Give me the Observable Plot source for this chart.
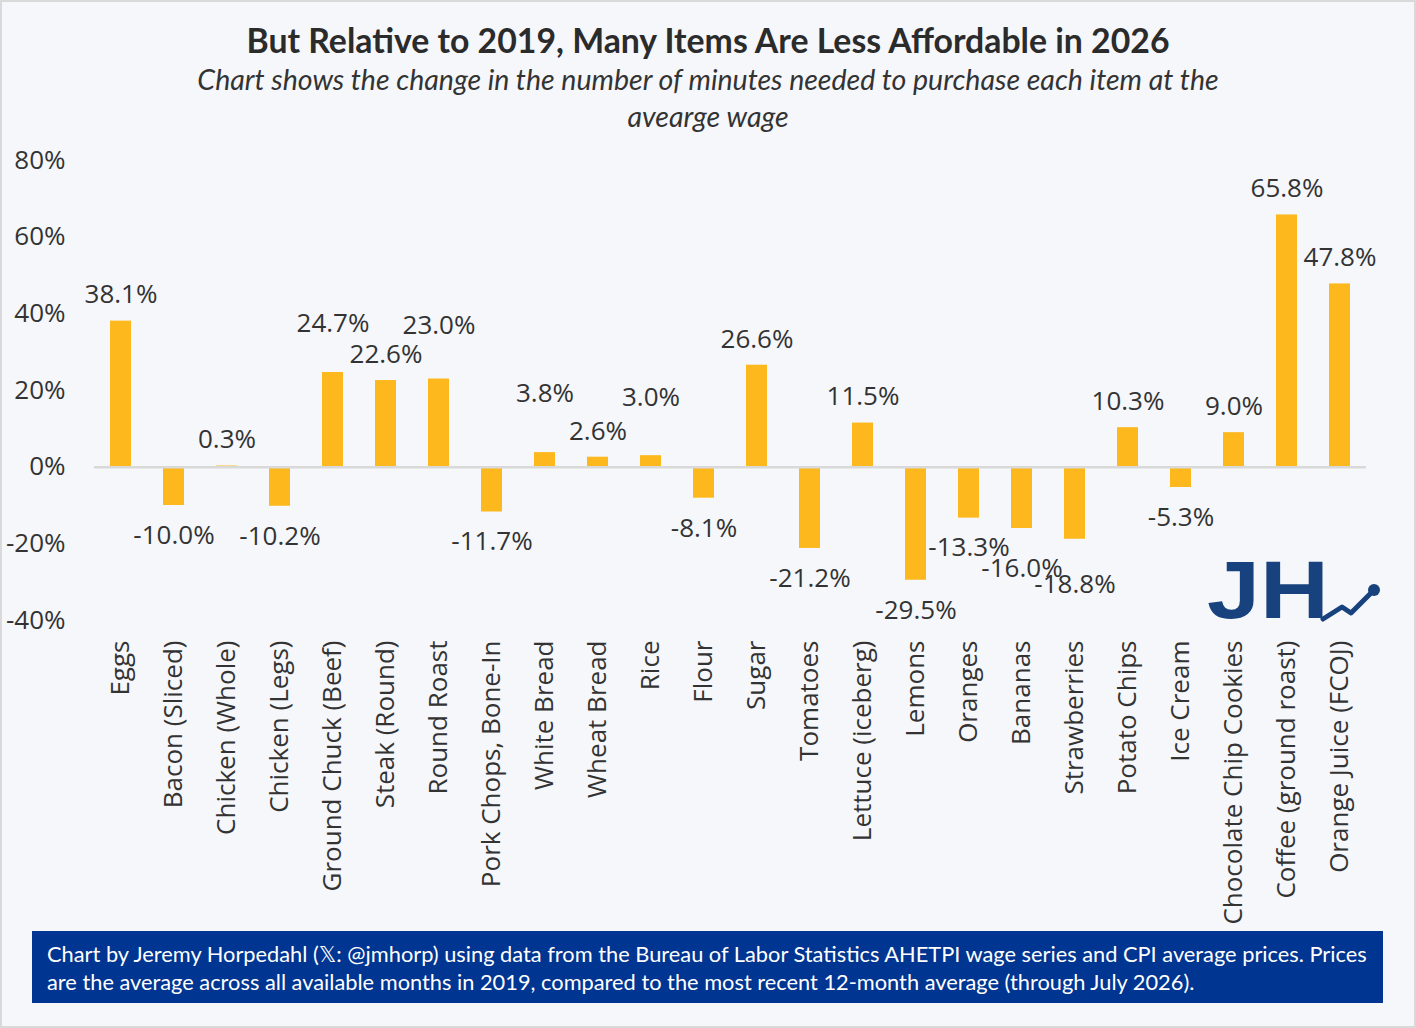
<!DOCTYPE html>
<html>
<head>
<meta charset="utf-8">
<script src="https://cdn.jsdelivr.net/npm/d3@7"></script>
<script src="https://cdn.jsdelivr.net/npm/@observablehq/plot@0.6"></script>
<style>
  html, body { margin: 0; padding: 0; background: #f5f7fb; }
  #wrap { position: relative; width: 1416px; height: 1028px; background: #f5f7fb; overflow: hidden; }
  #border { position: absolute; left: 0; top: 0; width: 1416px; height: 1028px; box-sizing: border-box; border: 2px solid #d9d9d9; pointer-events: none; z-index: 10; }
  #title { position: absolute; left: 0; width: 1416px; top: 20px; text-align: center; font-family: Lato, sans-serif; font-weight: 700; font-size: 33.8px; line-height: 40px; color: #2b2b2b; white-space: nowrap; }
  #subtitle { position: absolute; left: 0; width: 1416px; top: 61px; text-align: center; font-family: Lato, sans-serif; font-style: italic; font-size: 28.5px; line-height: 37px; color: #333; white-space: nowrap; }
  #chart { position: absolute; left: 0; top: 0; }
  #caption { position: absolute; left: 32px; top: 931px; width: 1351px; height: 72px; box-sizing: border-box; background: #003591; color: #fff; font-family: Lato, "DejaVu Sans", sans-serif; font-size: 21.8px; line-height: 28px; padding: 9px 0 0 15px; white-space: nowrap; }
  #logo { position: absolute; left: 1195px; top: 545px; }
</style>
</head>
<body>
<div id="wrap">
  <div id="title">But Relative to 2019, Many Items Are Less Affordable in 2026</div>
  <div id="subtitle">Chart shows the change in the number of minutes needed to purchase each item at the<br>avearge wage</div>
  <div id="chart"></div>
  <svg id="logo" width="200" height="90" viewBox="0 0 200 90">
    <text x="12" y="73" font-family="'Liberation Sans', Arial, sans-serif" font-weight="700" font-size="81" fill="#18427d" textLength="122" lengthAdjust="spacingAndGlyphs">JH</text>
    <polyline points="128,74 147,62 156,68 178,46" fill="none" stroke="#18427d" stroke-width="5" stroke-linecap="round" stroke-linejoin="round"/>
    <circle cx="179" cy="45" r="6" fill="#18427d"/>
  </svg>
  <div id="caption">Chart by Jeremy Horpedahl (𝕏: @jmhorp) using data from the Bureau of Labor Statistics AHETPI wage series and CPI average prices. Prices<br>are the average across all available months in 2019, compared to the most recent 12-month average (through July 2026).</div>
  <div id="border"></div>
</div>
<script>
const categories = ["Eggs","Bacon (Sliced)","Chicken (Whole)","Chicken (Legs)","Ground Chuck (Beef)","Steak (Round)","Round Roast","Pork Chops, Bone-In","White Bread","Wheat Bread","Rice","Flour","Sugar","Tomatoes","Lettuce (iceberg)","Lemons","Oranges","Bananas","Strawberries","Potato Chips","Ice Cream","Chocolate Chip Cookies","Coffee (ground roast)","Orange Juice (FCOJ)"];
const values = [38.1,-10.0,0.3,-10.2,24.7,22.6,23.0,-11.7,3.8,2.6,3.0,-8.1,26.6,-21.2,11.5,-29.5,-13.3,-16.0,-18.8,10.3,-5.3,9.0,65.8,47.8];
const yTicks = [-40,-20,0,20,40,60,80];

// extra label lift (px) where the original chart moved labels to avoid overlaps
const labelNudge = {"Ground Chuck (Beef)": -23, "Round Roast": -27, "White Bread": -33, "Rice": -32, "Bananas": 10, "Strawberries": 15};

const fmt = v => v.toFixed(1) + "%";
const data = categories.map((c, i) => ({
  category: c,
  value: values[i],
  dy: (values[i] >= 0 ? -26 : 30) + (labelNudge[c] || 0)
}));
const dys = [...new Set(data.map(d => d.dy))];
const labelMarks = dys.map(dy => Plot.text(data.filter(d => d.dy === dy), {
  x: "category", y: "value", text: d => fmt(d.value), dy, lineAnchor: "middle",
  fill: "#333", fontSize: 26
}));

const chart = Plot.plot({
  width: 1416,
  height: 930,
  marginTop: 160,
  marginBottom: 310,
  marginLeft: 94,
  marginRight: 50,
  style: { fontFamily: "'Open Sans', sans-serif", fontSize: "26px", color: "#333", background: "transparent", overflow: "visible" },
  x: { domain: categories, paddingInner: 0.6, paddingOuter: 0.3, tickRotate: -90, tickSize: 0, tickPadding: 20, label: null },
  y: { domain: [-40, 80], ticks: yTicks, tickFormat: d => String(d) + "%", tickSize: 0, tickPadding: 29, label: null },
  marks: [
    Plot.barY(data, { x: "category", y: "value", fill: "#FDB81E" }),
    Plot.ruleY([0], { stroke: "#d9d9d9", strokeWidth: 2.5 }),
    ...labelMarks
  ]
});
document.getElementById("chart").appendChild(chart);
</script>
</body>
</html>
